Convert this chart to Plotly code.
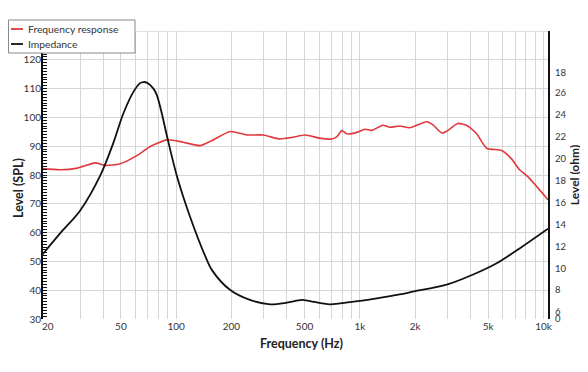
import plotly.graph_objects as go

# ---- data ----
freq_fr = [18.6, 23.4, 29.0, 36.3, 41.1, 49.6, 61.4, 72.3, 89.3, 109, 135, 155, 197, 243, 297,
           367, 432, 502, 606, 705, 750, 798, 850, 963, 1065, 1162, 1334, 1456, 1650, 1870,
           2312, 2494, 2793, 2972, 3410, 3819, 4325, 4900, 5916, 6700, 7410, 8190, 10580]
spl = [82.2, 81.8, 82.4, 84.2, 83.3, 83.9, 86.8, 89.9, 92.2, 91.4, 90.2, 91.8, 95.1, 93.9, 93.9,
       92.5, 93.1, 93.9, 92.8, 92.5, 93.3, 95.4, 94.3, 94.8, 95.9, 95.5, 97.3, 96.6, 97.0, 96.4,
       98.5, 97.5, 94.6, 95.2, 97.9, 97.2, 94.3, 89.3, 88.5, 85.6, 81.8, 79.5, 71.4]

freq_z = [18.6, 23.4, 30.1, 38.7, 45.4, 51.5, 58.5, 63.6, 66.3, 69.2, 75.2, 78.5, 83.6, 89.3,
          101, 119, 144, 157, 197, 252, 324, 401, 484, 535, 687, 883, 1237, 1650, 1941, 2972,
          4112, 5559, 7410, 10580]
ohm = [11.2, 13.2, 15.3, 18.5, 21.4, 24.1, 26.1, 26.9, 27.0, 26.95, 26.4, 25.8, 24.1, 22.0,
       18.4, 14.7, 11.1, 9.8, 8.0, 7.1, 6.7, 6.85, 7.1, 7.0, 6.7, 6.9, 7.25, 7.6, 7.85, 8.5,
       9.4, 10.45, 11.8, 13.6]

x_tickvals = [20, 50, 100, 200, 500, 1000, 2000, 5000, 10000]
x_ticktext = ["20", "50", "100", "200", "500", "1k", "2k", "5k", "10k"]
x_gridvals = [30, 40, 50, 60, 70, 80, 90, 100, 200, 300, 400, 500, 600, 700, 800, 900,
              1000, 2000, 3000, 4000, 5000, 6000, 7000, 8000, 9000, 10000]

y_tickvals = [30, 40, 50, 60, 70, 80, 90, 100, 110, 120]
y_minorvals = list(range(30, 123))

y2_tickvals = [5.42, 6, 8, 10, 12, 14, 16, 18, 20, 22, 24, 26, 27.85]
y2_ticktext = ["0", "6", "8", "10", "12", "14", "16", "18", "20", "22", "24", "26", "18"]

legend_names = ["Frequency response", "Impedance"]
legend_colors = ["#e0383d", "#111111"]

FONT = "Lato"
GRID = "#d6d6d6"
OFF = 8  # page offset of the figure inside the window
W, H = 580, 364
L, T = 42 - OFF, 31 - OFF
R = W - (548 - OFF)
B = H - (319 - OFF)
PW, PH = W - L - R, H - T - B


def px(sx):  # window pixel -> paper x
    return (sx - OFF - L) / PW


def py(sy):  # window pixel -> paper y
    return (H - B - (sy - OFF)) / PH


fig = go.Figure()
fig.add_trace(go.Scatter(x=freq_fr, y=spl, name=legend_names[0], mode="lines",
                         line=dict(color=legend_colors[0], width=1.6, shape="spline", smoothing=0.6)))
fig.add_trace(go.Scatter(x=freq_z, y=ohm, name=legend_names[1], mode="lines", yaxis="y2",
                         line=dict(color=legend_colors[1], width=1.8, shape="spline", smoothing=0.9)))

shapes = [
    dict(type="line", xref="paper", yref="y", x0=0, x1=0, y0=30, y1=122.5,
         line=dict(color="#111111", width=2)),
    dict(type="line", xref="paper", yref="y", x0=0, x1=1, y0=130, y1=130,
         line=dict(color=GRID, width=1.3), layer="below"),
    # legend box
    dict(type="rect", xref="paper", yref="paper", x0=px(8.5), x1=px(135), y0=py(53), y1=py(20),
         line=dict(color="#8a8a8a", width=1), fillcolor="white", layer="above"),
]
annotations = []
for i, (nm, col) in enumerate(zip(legend_names, legend_colors)):
    yy = 29 + 15 * i
    shapes.append(dict(type="line", xref="paper", yref="paper", x0=px(11), x1=px(23),
                       y0=py(yy), y1=py(yy), line=dict(color=col, width=1.8), layer="above"))
    annotations.append(dict(xref="paper", yref="paper", x=px(26), y=py(yy), text=nm,
                            showarrow=False, xanchor="left", yanchor="middle",
                            font=dict(size=10.3, color="#333333", family=FONT)))

annotations += [
    dict(xref="paper", yref="paper", x=px(18), y=py(188), text="<b>Level (SPL)</b>",
         textangle=-90, showarrow=False, xanchor="center", yanchor="middle",
         font=dict(size=12.5, color="#222222", family=FONT)),
    dict(xref="paper", yref="paper", x=px(301), y=py(343), text="<b>Frequency (Hz)</b>",
         showarrow=False, xanchor="center", yanchor="middle",
         font=dict(size=12.5, color="#222222", family=FONT)),
]

fig.update_layout(
    width=W, height=H,
    margin=dict(l=L, r=R, t=T, b=B, autoexpand=False),
    paper_bgcolor="white", plot_bgcolor="white",
    font=dict(family=FONT, color="#333333", size=10),
    showlegend=False,
    xaxis=dict(type="log", range=[1.2695, 4.0245], automargin=False,
               tickmode="array", tickvals=x_tickvals, ticktext=x_ticktext,
               showgrid=False, ticks="", showline=False, zeroline=False,
               tickfont=dict(size=10, color="#333333"),
               minor=dict(tickmode="array", tickvals=x_gridvals, showgrid=True,
                          gridcolor=GRID, gridwidth=1.3, ticks="")),
    yaxis=dict(range=[30, 130], tickmode="array", tickvals=y_tickvals, automargin=False,
               showgrid=True, gridcolor=GRID, gridwidth=1.3, zeroline=False,
               showline=False, ticks="inside", ticklen=5, tickwidth=1.2, tickcolor="#111111",
               tickfont=dict(size=10, color="#333333"),
               minor=dict(tickmode="array", tickvals=y_minorvals, ticks="inside",
                          ticklen=5, tickwidth=1.2, tickcolor="#111111", showgrid=False)),
    yaxis2=dict(overlaying="y", side="right", range=[5.36, 31.66], automargin=False,
                tickmode="array", tickvals=y2_tickvals, ticktext=y2_ticktext,
                showgrid=False, zeroline=False, showline=True, linecolor="#111111",
                linewidth=2.2, ticks="", ticklabelstandoff=3,
                tickfont=dict(size=9.5, color="#333333"),
                title=dict(text="<b>Level (ohm)</b>", standoff=3,
                           font=dict(size=12, color="#222222", family=FONT))),
    shapes=shapes,
    annotations=annotations,
)

fig.write_html("out.html")
